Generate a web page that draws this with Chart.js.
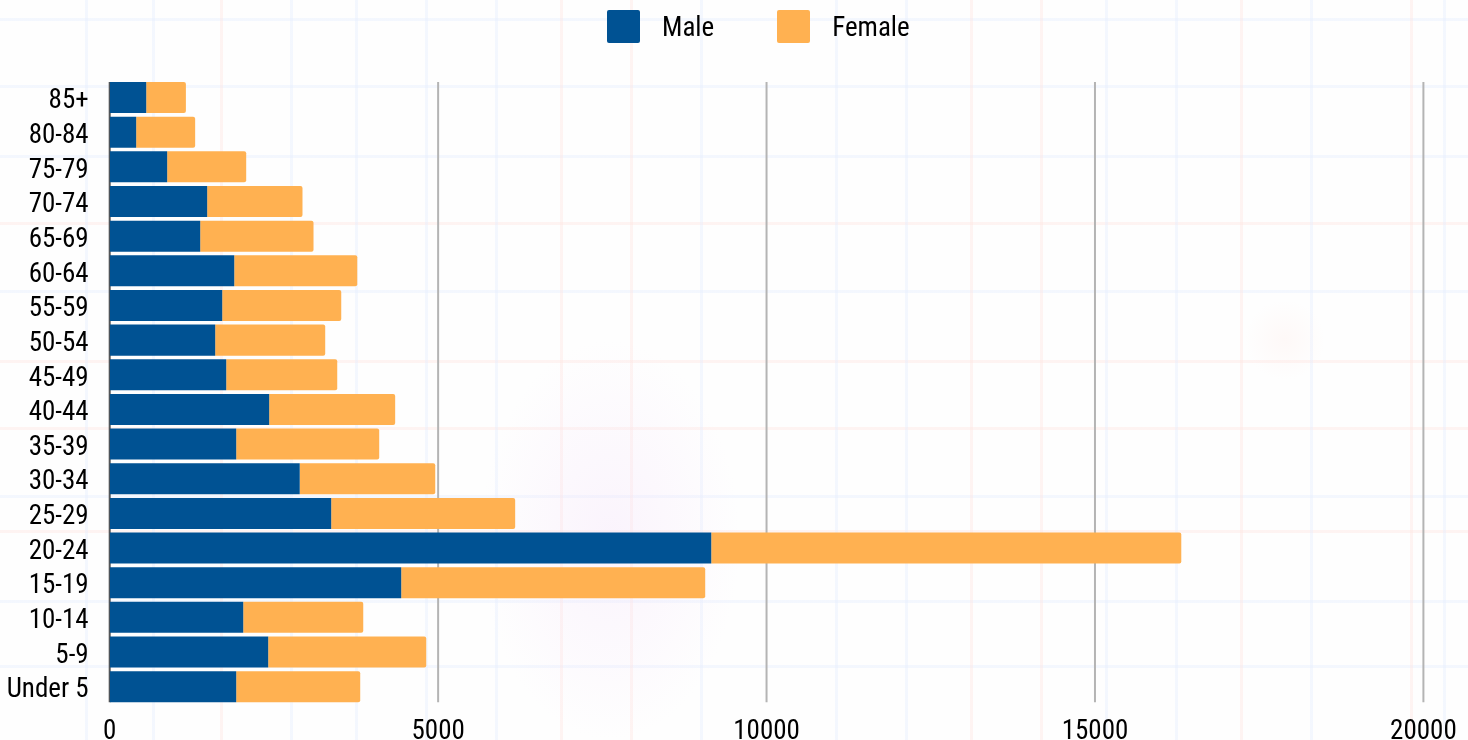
<!DOCTYPE html>
<html>
<head>
<meta charset="utf-8">
<title>Population by age</title>
<script src="https://cdn.jsdelivr.net/npm/chart.js@4/dist/chart.umd.js"></script>
<style>
html, body { margin: 0; padding: 0; background: #fff; }
#wrap { position: relative; width: 1468px; height: 740px; overflow: hidden; background-color: #fefefe; }
#chart { position: absolute; left: 0; top: 0; }
#legend { position: absolute; top: 10px; left: 607px; display: flex; font: condensed 27px 'Roboto Condensed', Roboto, sans-serif; color: #000; }
#legend div { display: flex; align-items: center; margin-right: 63px; }
#legend i { display: block; width: 33px; height: 33px; border-radius: 2px; margin-right: 22px; }
</style>
</head>
<body>
<div id="wrap">
    <canvas id="chart" width="1468" height="740"></canvas>
    <div id="legend"></div>
</div>
<script>
const ageGroups = ['85+','80-84','75-79','70-74','65-69','60-64','55-59','50-54','45-49','40-44','35-39','30-34','25-29','20-24','15-19','10-14','5-9','Under 5'];
const male = [556,403,875,1484,1378,1896,1713,1606,1774,2428,1926,2893,3372,9158,4438,2033,2413,1926];
const female = [604,898,1203,1451,1725,1873,1812,1675,1690,1918,2177,2063,2801,7156,4628,1827,2406,1888];
const xTicks = [0,5000,10000,15000,20000];

// faint road map behind the chart
const blueRoadsX = [85,152,290,355,425,495,700,835,905,1105,1175,1310,1443];
const pinkRoadsX = [220,560,630,970,1040,1240,1410];
const blueRoadsY = [18,85,155,290,495,600,665];
const pinkRoadsY = [222,360,427,530];
const road = (c, x, y, w, h) => `linear-gradient(${c},${c}) ${x}px ${y}px / ${w}px ${h}px no-repeat`;
const blue = 'rgba(228,237,255,.4)', pink = 'rgba(255,228,224,.4)';
document.getElementById('wrap').style.background = [
    'radial-gradient(closest-side, rgba(245,228,250,.4), rgba(245,228,250,0)) 480px 340px / 260px 400px no-repeat',
    'radial-gradient(closest-side, rgba(255,232,228,.25), rgba(255,232,228,0)) 1245px 300px / 80px 80px no-repeat',
    ...blueRoadsX.map(x => road(blue, x, 0, 3, 740)),
    ...pinkRoadsX.map(x => road(pink, x, 0, 3, 740)),
    ...blueRoadsY.map(y => road(blue, 0, y, 1468, 3)),
    ...pinkRoadsY.map(y => road(pink, 0, y, 1468, 3)),
    '#fefefe'
].join(',');

const labelFont = { family: "'Roboto Condensed', Roboto, sans-serif", size: 27, weight: 'condensed' };

// grid lines stop at the first and last bar, not at the scale ends
const barGrid = {
    id: 'barGrid',
    beforeDatasetsDraw(chart) {
        const { ctx, scales } = chart;
        const bars = chart.getDatasetMeta(0).data;
        const top = bars[0].y - bars[0].height / 2;
        const bottom = bars[bars.length - 1].y + bars[0].height / 2;
        ctx.save();
        ctx.lineWidth = 2;
        xTicks.forEach(v => {
            const x = scales.x.getPixelForValue(v);
            ctx.strokeStyle = v === 0 ? '#555' : '#b4b4b4';
            ctx.beginPath();
            ctx.moveTo(x, top);
            ctx.lineTo(x, bottom);
            ctx.stroke();
        });
        ctx.restore();
    }
};

// category labels sit a little below the bar centre in the original
// (afterUpdate fires more than once per layout, so only wrap the first time)
function nudgeLabels(axis) {
    if (axis.nudged) return;
    axis.nudged = true;
    const draw = axis.drawLabels;
    axis.drawLabels = function (area) {
        this.ctx.save();
        this.ctx.translate(0, 4);
        draw.call(this, area);
        this.ctx.restore();
    };
}

const ctx = document.getElementById('chart').getContext('2d');
const chart = new Chart(ctx, {
    type: 'bar',
    plugins: [barGrid],
    data: {
        labels: ageGroups,
        datasets: [{
            label: 'Male',
            data: male,
            backgroundColor: '#005293',
            barPercentage: 0.895,
            categoryPercentage: 1
        }, {
            label: 'Female',
            data: female,
            backgroundColor: '#ffb151',
            barPercentage: 0.895,
            categoryPercentage: 1,
            borderRadius: { topRight: 2, bottomRight: 2 },
            borderSkipped: false
        }]
    },
    options: {
        indexAxis: 'y',
        responsive: false,
        animation: false,
        layout: { padding: { top: 80.2, right: 44.6, bottom: 0, left: 0 } },
        plugins: {
            legend: { display: false },
            tooltip: { enabled: false }
        },
        scales: {
            x: {
                stacked: true,
                min: 0,
                max: 20000,
                afterBuildTicks: axis => { axis.ticks = xTicks.map(v => ({ value: v })); },
                afterFit: axis => { axis.height = 36; },
                border: { display: false },
                grid: { display: false },
                ticks: { color: '#000', font: labelFont, padding: 4, maxRotation: 0, callback: v => String(v) }
            },
            y: {
                stacked: true,
                afterFit: axis => { axis.width = 109.7; },
                afterUpdate: nudgeLabels,
                border: { display: false },
                grid: { display: false },
                ticks: { color: '#000', font: labelFont, padding: 13, autoSkip: false }
            }
        }
    }
});

// html legend so the box to text gap can match
const legend = document.getElementById('legend');
chart.data.datasets.forEach(ds => {
    const item = document.createElement('div');
    const box = document.createElement('i');
    box.style.background = ds.backgroundColor;
    item.appendChild(box);
    item.appendChild(document.createTextNode(ds.label));
    legend.appendChild(item);
});
</script>
</body>
</html>
